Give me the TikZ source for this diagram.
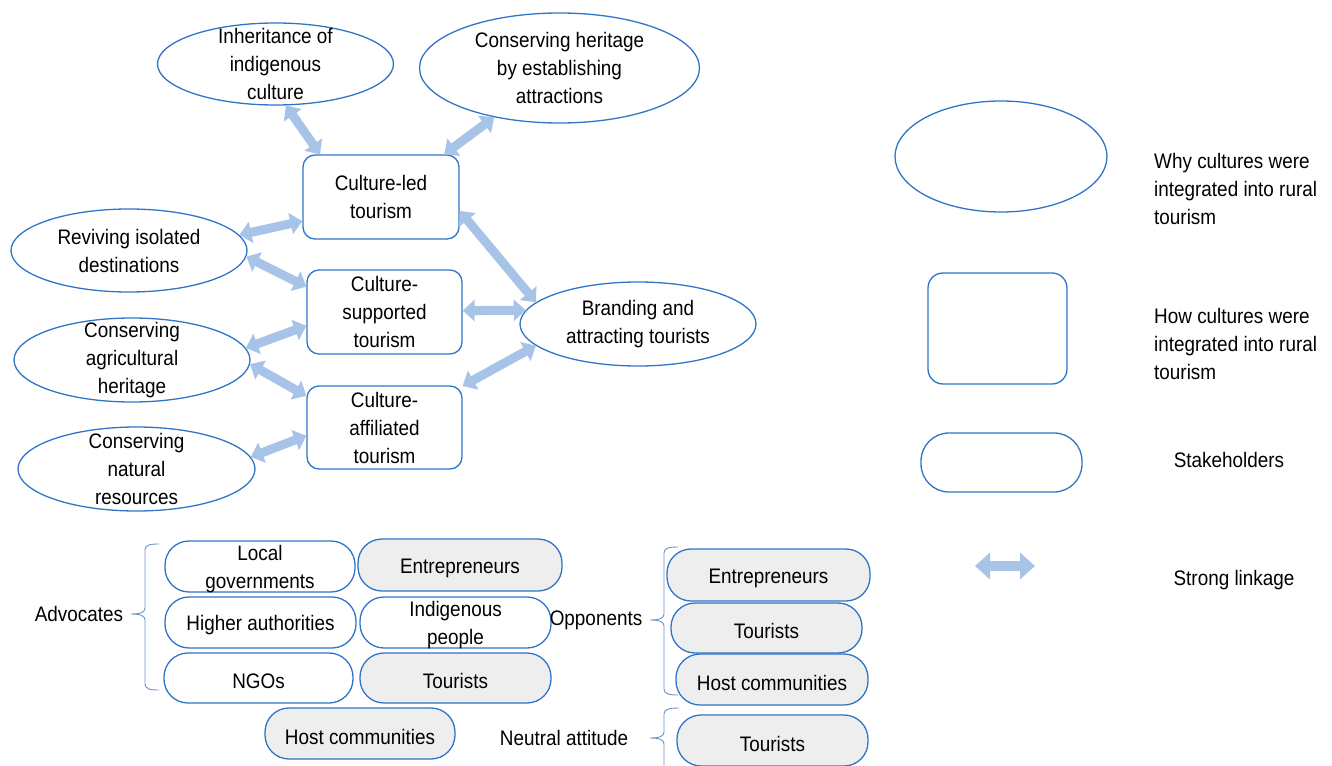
\documentclass[tikz,border=0pt]{standalone}
\usepackage{fontspec}
\setmainfont[FakeStretch=0.9]{Liberation Sans}
\usetikzlibrary{shapes.geometric,arrows.meta}
\definecolor{bblue}{RGB}{47,117,199}
\definecolor{lblue}{RGB}{168,195,232}
\definecolor{sgray}{RGB}{238,238,238}
\definecolor{brcol}{RGB}{110,145,200}
\begin{document}
\begin{tikzpicture}[x=1pt,y=-1pt,
 every node/.style={font=\fontsize{21}{28}\selectfont},
 txt/.style={align=center, inner sep=0pt},
 stl/.style={txt, yshift=-3pt},
 ell/.style={ellipse, draw=bblue, line width=1.3pt, inner sep=0pt},
 boxn/.style={rectangle, rounded corners=12pt, draw=bblue, line width=1.3pt, inner sep=0pt, minimum width=155pt, minimum height=84pt},
 stk/.style={rectangle, rounded corners=24pt, draw=bblue, line width=1.3pt, inner sep=0pt, minimum width=191pt, minimum height=51pt, fill=white},
 stkg/.style={stk, fill=sgray},
 lnk/.style={draw=lblue, line width=9pt, arrows={Triangle[length=12pt,width=21pt]-Triangle[length=12pt,width=21pt]}},
 brc/.style={draw=brcol, line width=0.9pt},
]
\useasboundingbox (0,0) rectangle (1332,765);

% why-ellipses
\node[ell, minimum width=236pt, minimum height=82pt, label={[txt]center:Inheritance of\\indigenous\\culture}] (inh) at (275.5,64) {};
\node[ell, minimum width=280pt, minimum height=110pt, label={[txt]center:Conserving heritage\\by establishing\\attractions}] (cha) at (559.5,68) {};
\node[ell, minimum width=236pt, minimum height=83pt, label={[txt]center:Reviving isolated\\destinations}] (rev) at (129,250.5) {};
\node[ell, minimum width=236pt, minimum height=84pt, label={[txt]center:Branding and\\attracting tourists}] (br) at (638,324) {};
\node[ell, minimum width=236pt, minimum height=84pt, label={[txt]center:Conserving\\agricultural\\heritage}] (agr) at (132,360) {};
\node[ell, minimum width=237pt, minimum height=84pt, label={[txt]center:Conserving\\natural\\resources}] (nat) at (136.5,469) {};

% how-boxes
\node[boxn, minimum width=156pt, label={[txt]center:Culture-led\\tourism}] (cl) at (381,197) {};
\node[boxn, label={[txt]center:Culture-\\supported\\tourism}] (cs) at (384.5,312) {};
\node[boxn, minimum height=83pt, label={[txt]center:Culture-\\affiliated\\tourism}] (ca) at (384.5,427.5) {};

% strong linkages
\draw[lnk] (inh.-76) -- (cl.145);
\draw[lnk] (cha.-143) -- (cl.34.5);
\draw[lnk] (cl.-10) -- (br.168);
\draw[lnk] (rev.8) -- (cl.-163.6);
\draw[lnk] (rev.-3.3) -- (cs.162);
\draw[lnk] (cs.1.5) -- (br.173);
\draw[lnk] (agr.6.6) -- (cs.-170.4);
\draw[lnk] (agr.-2.4) -- (ca.158);
\draw[lnk] (br.-168.6) -- (ca.28.4);
\draw[lnk] (nat.6) -- (ca.-174.2);

% stakeholders: advocates
\node[stk, minimum width=190pt, label={[stl]center:Local\\governments}] (lg) at (260,566.5) {};
\node[stkg, minimum width=204pt, minimum height=52pt, label={[stl]center:Entrepreneurs}] (ae) at (460,565) {};
\node[stk, label={[stl]center:Higher authorities}] (ha) at (260.5,622.5) {};
\node[stk, label={[stl]center:Indigenous\\people}] (ip) at (455.5,622.5) {};
\node[stk, minimum width=189pt, minimum height=50pt, label={[stl]center:NGOs}] (ngo) at (258.5,678) {};
\node[stkg, minimum height=50pt, label={[stl]center:Tourists}] (at) at (455.5,678) {};
\node[stkg, minimum width=190pt, label={[stl]center:Host communities}] (ahc) at (360,733.5) {};

% opponents
\node[stkg, minimum width=203pt, minimum height=52pt, label={[stl]center:Entrepreneurs}] (oe) at (768.5,575) {};
\node[stkg, minimum height=50pt, label={[stl]center:Tourists}] (ot) at (766.5,628) {};
\node[stkg, minimum width=192pt, label={[stl]center:Host communities}] (ohc) at (772,679.5) {};
% neutral
\node[stkg, label={[stl]center:Tourists}] (nt) at (772.5,740.5) {};

% group labels
\node[txt] (adv) at (79,614) {Advocates};
\node[txt] (opp) at (596,620) {Opponents};
\node[txt] (neu) at (564,738) {Neutral attitude};

% braces
\draw[brc] (159,544) .. controls (150,544) and (145,545) .. (145,550) -- (145,608)
  .. controls (145,612) and (141,614) .. (131,614) .. controls (141,614) and (145,616) .. (145,620)
  -- (145,684) .. controls (145,689) and (150,690) .. (159,690);
\draw[brc] (678,547) .. controls (669,547) and (664,548) .. (664,553) -- (664,614)
  .. controls (664,618) and (660,620) .. (650,620) .. controls (660,620) and (664,622) .. (664,626)
  -- (664,689) .. controls (664,694) and (669,695) .. (678,695);
\draw[brc] (679,708) .. controls (670,708) and (664,709) .. (664,714) -- (664,732)
  .. controls (664,736) and (660,738) .. (650,738) .. controls (660,738) and (664,740) .. (664,744)
  -- (664,770);

% legend
\node[ell, minimum width=212pt, minimum height=111pt] (lge) at (1001,156.5) {};
\node[txt, align=left, anchor=west] (lget) at (1154,189) {Why cultures were\\integrated into rural\\tourism};
\node[rectangle, rounded corners=15pt, draw=bblue, line width=1.3pt, inner sep=0pt, minimum width=139pt, minimum height=111pt] (lgb) at (997.5,328.5) {};
\node[txt, align=left, anchor=west] (lgbt) at (1154,344) {How cultures were\\integrated into rural\\tourism};
\node[stk, minimum width=161pt, minimum height=59pt, rounded corners=28pt] (lgs) at (1001.5,462.5) {};
\node[txt] (lgst) at (1229,460) {Stakeholders};
\coordinate (la) at (975,566);
\coordinate (lb) at (1035,566);
\draw[draw=lblue, line width=10pt, arrows={Triangle[length=15pt,width=26pt]-Triangle[length=15pt,width=26pt]}] (la) -- (lb);
\node[txt] (lgat) at (1234,580) {Strong linkage};
\end{tikzpicture}
\end{document}
